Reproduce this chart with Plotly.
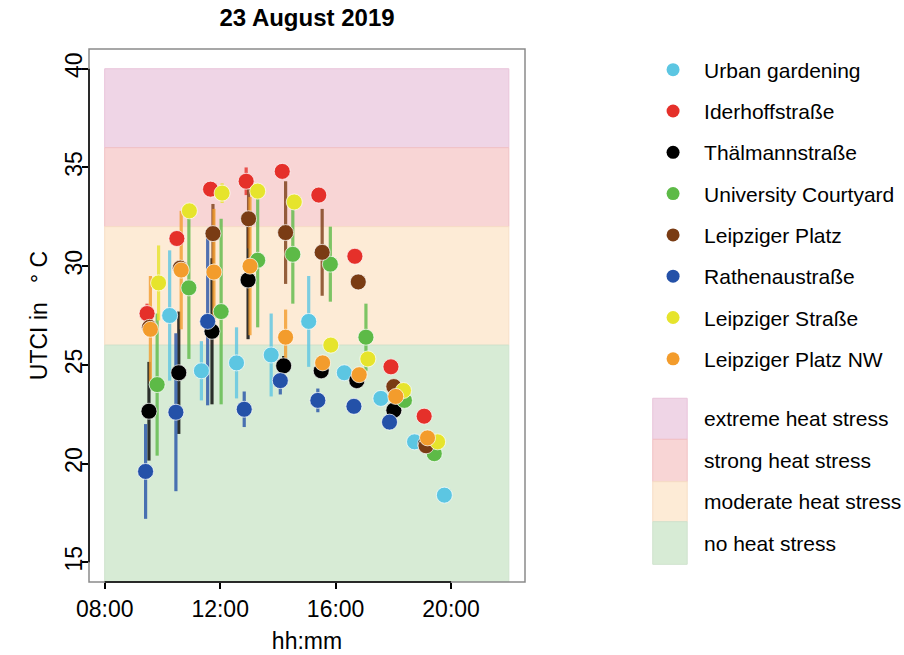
import plotly.graph_objects as go

DAY = "2019-08-23"

# ---- measurement data: time (hh:mm), mean UTCI (°C), standard deviation ----
urban_time = ["10:15", "11:21", "12:34", "13:46", "15:04", "16:18", "17:34", "18:44", "19:46"]
urban_utci = [27.5, 24.7, 25.1, 25.5, 27.2, 24.6, 23.3, 21.1, 18.4]
urban_sd = [3.3, 1.5, 1.8, 2.1, 2.3, 0.3, 0.3, 0.3, 0.3]

ider_time = ["09:28", "10:30", "11:40", "12:54", "14:09", "15:25", "16:40", "17:55", "19:04"]
ider_utci = [27.6, 31.4, 33.9, 34.3, 34.8, 33.6, 30.5, 24.9, 22.4]
ider_sd = [0.5, 0.3, 0.3, 0.7, 0.3, 0.3, 0.3, 0.3, 0.3]

thael_time = ["09:32", "10:34", "11:43", "12:58", "14:12", "15:30", "16:44", "18:01", "19:07"]
thael_utci = [22.65, 24.6, 26.7, 29.3, 24.95, 24.7, 24.2, 22.7, 21.0]
thael_sd = [2.5, 3.1, 3.7, 3.0, 0.5, 0.4, 0.4, 0.3, 0.3]

univ_time = ["09:49", "10:55", "12:02", "13:18", "14:31", "15:49", "17:03", "18:23", "19:25"]
univ_utci = [24.0, 28.9, 27.7, 30.3, 30.6, 30.1, 26.4, 23.2, 20.5]
univ_sd = [3.6, 3.6, 4.7, 3.4, 2.5, 1.9, 1.7, 0.3, 0.3]

lplatz_time = ["09:33", "10:37", "11:45", "12:59", "14:16", "15:32", "16:47", "18:01", "19:08"]
lplatz_utci = [26.9, 29.9, 31.65, 32.4, 31.7, 30.7, 29.2, 23.9, 20.9]
lplatz_sd = [0.3, 0.3, 1.5, 1.5, 2.6, 2.2, 0.3, 0.3, 0.3]

rathen_time = ["09:25", "10:28", "11:34", "12:50", "14:05", "15:23", "16:38", "17:52"]
rathen_utci = [19.6, 22.6, 27.2, 22.75, 24.2, 23.2, 22.9, 22.1]
rathen_sd = [2.4, 4.0, 4.25, 0.9, 0.7, 0.6, 0.3, 0.3]

lstr_time = ["09:52", "10:56", "12:04", "13:18", "14:34", "15:50", "17:07", "18:21", "19:32"]
lstr_utci = [29.15, 32.8, 33.7, 33.8, 33.25, 26.0, 25.3, 23.7, 21.1]
lstr_sd = [1.9, 0.4, 0.5, 0.4, 0.3, 0.3, 0.3, 0.3, 0.3]

lpnw_time = ["09:35", "10:39", "11:47", "13:02", "14:16", "15:33", "16:49", "18:05", "19:11"]
lpnw_utci = [26.8, 29.8, 29.7, 30.0, 26.4, 25.1, 24.5, 23.4, 21.3]
lpnw_sd = [2.7, 3.0, 3.2, 3.5, 1.4, 0.3, 0.3, 0.3, 0.3]

station_names = ["Urban gardening", "Iderhoffstraße", "Thälmannstraße", "University Courtyard",
                 "Leipziger Platz", "Rathenaustraße", "Leipziger Straße", "Leipziger Platz NW"]
station_colors = ["#5cc6e2", "#e5302a", "#000000", "#5dba47",
                  "#7a3c14", "#2451a8", "#e6e42c", "#f39c2c"]
station_times = [urban_time, ider_time, thael_time, univ_time,
                 lplatz_time, rathen_time, lstr_time, lpnw_time]
station_utci = [urban_utci, ider_utci, thael_utci, univ_utci,
                lplatz_utci, rathen_utci, lstr_utci, lpnw_utci]
station_sd = [urban_sd, ider_sd, thael_sd, univ_sd,
              lplatz_sd, rathen_sd, lstr_sd, lpnw_sd]

# ---- UTCI heat-stress classes ----
stress_labels = ["extreme heat stress", "strong heat stress", "moderate heat stress", "no heat stress"]
stress_lower = [36, 32, 26, 10]
stress_upper = [40, 36, 32, 26]
stress_fill = ["#efd5e6", "#f8d5d5", "#fdebd6", "#d7ebd5"]
stress_edge = ["#e9c3da", "#f1c0c3", "#f7dec6", "#cfe3cd"]

x_ticks = ["08:00", "12:00", "16:00", "20:00"]
y_ticks = [15, 20, 25, 30, 35, 40]

FONT = "Liberation Sans, Arial, sans-serif"
NB = "\u00a0"


def ts(hhmm):
    return f"{DAY} {hhmm}"


fig = go.Figure()

# Heat stress bands from 08:00 to 22:00
for lo, hi, fill, edge in zip(stress_lower, stress_upper, stress_fill, stress_edge):
    fig.add_shape(type="rect", xref="x", yref="y", x0=ts("08:00"), x1=ts("22:00"),
                  y0=lo, y1=hi, fillcolor=fill, line=dict(color=edge, width=1), layer="below")


def rgba(hex_color, a):
    h = hex_color.lstrip("#")
    r, g, b = int(h[0:2], 16), int(h[2:4], 16), int(h[4:6], 16)
    return f"rgba({r},{g},{b},{a})"


# Error bars (standard deviation) underneath all points
for name, col, t, v, sd in zip(station_names, station_colors, station_times, station_utci, station_sd):
    fig.add_trace(go.Scatter(
        x=[ts(s) for s in t], y=v, mode="markers",
        marker=dict(size=15, color=col, opacity=0),
        error_y=dict(type="data", array=sd, visible=True, color=rgba(col, 0.8),
                     thickness=3.2, width=0),
        showlegend=False, hoverinfo="skip"))

# Mean values
for i, (name, col, t, v) in enumerate(zip(station_names, station_colors, station_times, station_utci)):
    fig.add_trace(go.Scatter(
        x=[ts(s) for s in t], y=v, mode="markers", name=name,
        legendgroup=f"g{i}", showlegend=False,
        marker=dict(size=16, color=col, line=dict(color="rgba(255,255,255,0.7)", width=1))))

# Legend entries with smaller symbols
for i, (name, col) in enumerate(zip(station_names, station_colors)):
    fig.add_trace(go.Scatter(
        x=[None], y=[None], mode="markers", name=name, legendgroup=f"g{i}",
        marker=dict(size=13, color=col), showlegend=True))

# Plot frame (grey box)
fig.add_shape(type="rect", xref="paper", yref="paper", x0=0, x1=1, y0=0, y1=1,
              line=dict(color="#8a8a8a", width=1.5), fillcolor="rgba(0,0,0,0)")
# Axis lines spanning the tick range
fig.add_shape(type="line", xref="x", yref="paper", x0=ts(x_ticks[0]), x1=ts(x_ticks[-1]),
              y0=0, y1=0, line=dict(color="black", width=1.5))
fig.add_shape(type="line", xref="paper", yref="y", x0=0, x1=0,
              y0=y_ticks[0], y1=y_ticks[-1], line=dict(color="black", width=1.5))

# Legend for the heat stress classes
lx0, lx1 = 1.293, 1.372
ly = [0.3447, 0.2677, 0.1882, 0.1131, 0.0332]
for k, (lab, fill) in enumerate(zip(stress_labels, stress_fill)):
    fig.add_shape(type="rect", xref="paper", yref="paper", x0=lx0, x1=lx1,
                  y0=ly[k + 1], y1=ly[k], fillcolor=fill, line=dict(color=stress_edge[k], width=1))
    fig.add_annotation(xref="paper", yref="paper", x=1.407, y=(ly[k] + ly[k + 1]) / 2,
                       text=lab, showarrow=False, xanchor="left", yanchor="middle",
                       font=dict(family=FONT, size=21, color="black"))

fig.update_layout(
    width=904, height=655,
    margin=dict(l=89, r=379, t=49, b=73, autoexpand=False),
    paper_bgcolor="white", plot_bgcolor="white",
    font=dict(family=FONT, color="black"),
    title=dict(text="<b>23 August 2019</b>", x=(89 + 525) / 2 / 904, xanchor="center",
               y=1 - 18 / 655, yanchor="middle", font=dict(family=FONT, size=24)),
    showlegend=True,
    legend=dict(x=1.2685, xanchor="left", y=0.999, yanchor="top",
                font=dict(family=FONT, size=21), tracegroupgap=11, itemwidth=52,
                traceorder="grouped", bgcolor="rgba(0,0,0,0)", itemsizing="trace",
                maxheight=620),
    xaxis=dict(type="date", range=[ts("07:27:22"), ts("22:33:36")],
               tickvals=[ts(s) for s in x_ticks], ticktext=x_ticks,
               ticks="outside", ticklen=6, tickwidth=1.5, tickcolor="black",
               showgrid=False, zeroline=False, showline=False,
               tickfont=dict(family=FONT, size=23),
               title=dict(text="hh:mm", font=dict(family=FONT, size=23), standoff=12)),
    yaxis=dict(range=[14, 41], tickvals=y_ticks, ticks="outside", ticklen=6,
               tickwidth=1.5, tickcolor="black", tickangle=-90, ticklabelstandoff=-9,
               showgrid=False, zeroline=False, showline=False,
               tickfont=dict(family=FONT, size=23),
               title=dict(text=f"UTCI in{NB*3}°{NB}C", font=dict(family=FONT, size=23),
                          standoff=6)),
)

fig.write_html("out.html")
